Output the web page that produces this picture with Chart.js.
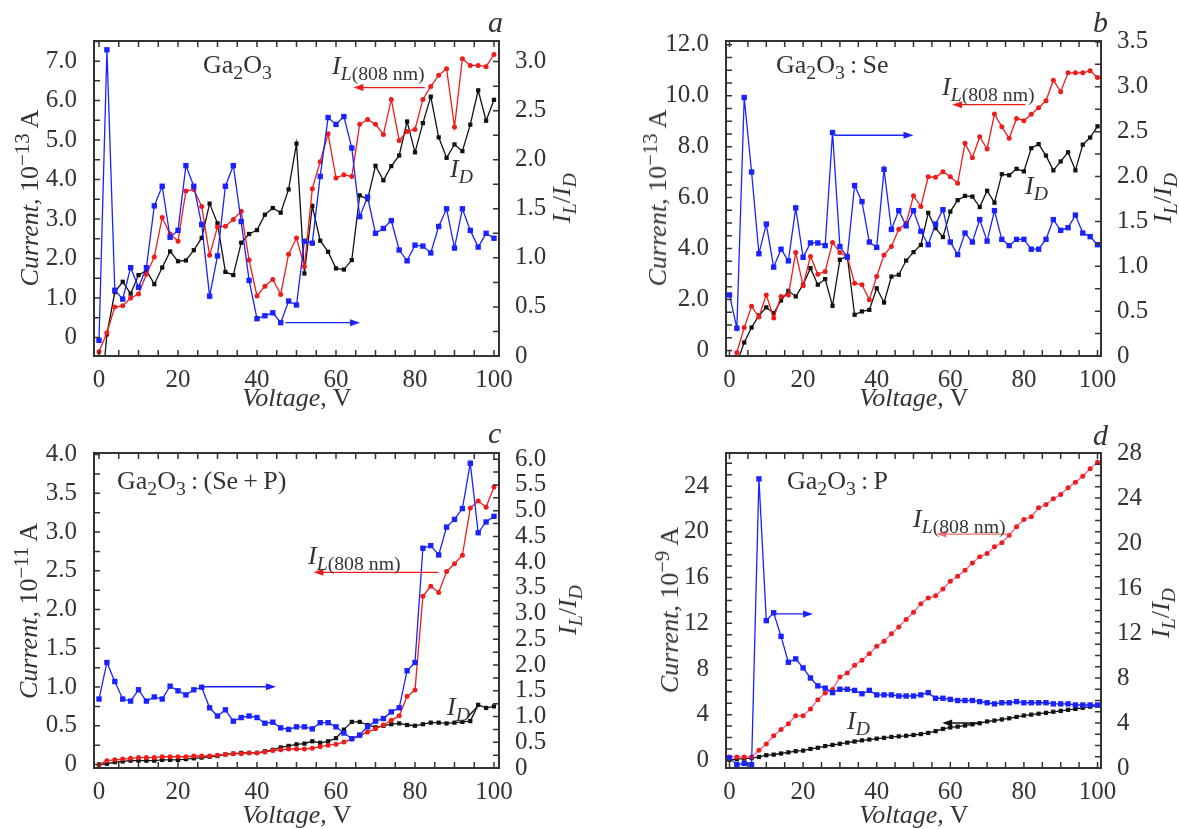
<!DOCTYPE html>
<html lang="en">
<head>
<meta charset="utf-8">
<title>Ga2O3 dark / light current and I_L/I_D ratio</title>
<script src="https://cdn.jsdelivr.net/npm/chart.js@4.4.1/dist/chart.umd.min.js"></script>
<style>
  html, body { margin: 0; background: #fff; }
  #fig { position: relative; width: 1179px; height: 829px; overflow: hidden;
         font-family: "Liberation Serif", "Times New Roman", serif; color: #333; }
  #fig canvas { position: absolute; }
  .t { position: absolute; white-space: nowrap; line-height: 1; }
  .c { transform: translateX(-50%); }
  .r { transform: translate(-50%, -50%) rotate(-90deg); }
  .sb { font-size: 0.76em; position: relative; top: 0.3em; }
  .sp { font-size: 0.8em; position: relative; top: -0.45em; }
</style>
</head>
<body>
<div id="fig">
  <canvas id="chart-a" width="590" height="415" style="left:0;top:0"></canvas>
  <canvas id="chart-b" width="589" height="415" style="left:590px;top:0"></canvas>
  <canvas id="chart-c" width="590" height="414" style="left:0;top:415px"></canvas>
  <canvas id="chart-d" width="589" height="414" style="left:590px;top:415px"></canvas>

  <!-- panel a -->
  <div class="t" style="left:488px;top:7px;font-size:30px"><i>a</i></div>
  <div class="t" style="left:203px;top:52px;font-size:26px">Ga<span class="sb">2</span>O<span class="sb">3</span></div>
  <div class="t" style="left:332px;top:53px;font-size:26px"><i>I</i><span class="sb"><i>L</i>(808 nm)</span></div>
  <div class="t" style="left:450px;top:156px;font-size:26px"><i>I</i><span class="sb"><i>D</i></span></div>
  <div class="t r" style="left:30px;top:198px;font-size:26px"><i>Current,</i> 10<span class="sp">−13</span> A</div>
  <div class="t r" style="left:562px;top:198px;font-size:26px"><i>I</i><span class="sb"><i>L</i></span>/<i>I</i><span class="sb"><i>D</i></span></div>
  <div class="t c" style="left:297px;top:385px;font-size:26px"><i>Voltage</i>, V</div>

  <!-- panel b -->
  <div class="t" style="left:1093px;top:7px;font-size:30px"><i>b</i></div>
  <div class="t" style="left:776px;top:52px;font-size:26px">Ga<span class="sb">2</span>O<span class="sb">3</span>&#8201;:&#8201;Se</div>
  <div class="t" style="left:942px;top:74px;font-size:26px"><i>I</i><span class="sb"><i>L</i>(808 nm)</span></div>
  <div class="t" style="left:1025px;top:173px;font-size:26px"><i>I</i><span class="sb"><i>D</i></span></div>
  <div class="t r" style="left:658px;top:198px;font-size:26px"><i>Current,</i> 10<span class="sp">−13</span> A</div>
  <div class="t r" style="left:1163px;top:198px;font-size:26px"><i>I</i><span class="sb"><i>L</i></span>/<i>I</i><span class="sb"><i>D</i></span></div>
  <div class="t c" style="left:914px;top:385px;font-size:26px"><i>Voltage</i>, V</div>

  <!-- panel c -->
  <div class="t" style="left:488px;top:418px;font-size:30px"><i>c</i></div>
  <div class="t" style="left:117px;top:468px;font-size:26px">Ga<span class="sb">2</span>O<span class="sb">3</span>&#8201;:&#8201;(Se&#8201;+&#8201;P)</div>
  <div class="t" style="left:308px;top:543px;font-size:26px"><i>I</i><span class="sb"><i>L</i>(808 nm)</span></div>
  <div class="t" style="left:447px;top:694px;font-size:26px"><i>I</i><span class="sb"><i>D</i></span></div>
  <div class="t r" style="left:29px;top:611px;font-size:26px"><i>Current,</i> 10<span class="sp">−11</span> A</div>
  <div class="t r" style="left:568px;top:610px;font-size:26px"><i>I</i><span class="sb"><i>L</i></span>/<i>I</i><span class="sb"><i>D</i></span></div>
  <div class="t c" style="left:297px;top:802px;font-size:26px"><i>Voltage</i>, V</div>

  <!-- panel d -->
  <div class="t" style="left:1093px;top:420px;font-size:30px"><i>d</i></div>
  <div class="t" style="left:787px;top:468px;font-size:26px">Ga<span class="sb">2</span>O<span class="sb">3</span>&#8201;:&#8201;P</div>
  <div class="t" style="left:913px;top:506px;font-size:26px"><i>I</i><span class="sb"><i>L</i>(808 nm)</span></div>
  <div class="t" style="left:847px;top:708px;font-size:26px"><i>I</i><span class="sb"><i>D</i></span></div>
  <div class="t r" style="left:670px;top:610px;font-size:26px"><i>Current,</i> 10<span class="sp">−9</span> A</div>
  <div class="t r" style="left:1161px;top:613px;font-size:26px"><i>I</i><span class="sb"><i>L</i></span>/<i>I</i><span class="sb"><i>D</i></span></div>
  <div class="t c" style="left:914px;top:802px;font-size:26px"><i>Voltage</i>, V</div>
</div>

<script>
// Four panels, voltage sweep 0..100 V in 2 V steps.
// left axis: dark current I_D and light current I_L(808 nm); right axis: I_L/I_D.

const VOLTAGE = [0, 2, 4, 6, 8, 10, 12, 14, 16, 18, 20, 22, 24, 26, 28, 30, 32, 34, 36, 38, 40,
  42, 44, 46, 48, 50, 52, 54, 56, 58, 60, 62, 64, 66, 68, 70, 72, 74, 76, 78, 80,
  82, 84, 86, 88, 90, 92, 94, 96, 98, 100];
const X_TICKS = [0, 20, 40, 60, 80, 100];

// ---- a: Ga2O3 (10^-13 A) ----
const A_DARK = [-2.1, 0.08, 1.15, 1.41, 1.11, 1.58, 1.70, 1.35, 1.77, 2.18, 1.93, 1.95, 2.21, 2.52, 3.39, 2.89, 1.66,
  1.58, 2.40, 2.62, 2.72, 3.11, 3.28, 3.16, 3.75, 4.91, 1.62, 3.33, 2.45, 2.17, 1.75, 1.72, 1.96, 3.60,
  3.50, 4.35, 3.98, 4.34, 4.61, 5.47, 4.69, 5.43, 6.10, 5.07, 4.55, 4.89, 4.72, 5.39, 6.26, 5.49, 6.02];
const A_LIGHT = [-0.36, 0.12, 0.77, 0.80, 1.00, 1.10, 1.60, 2.04, 3.04, 2.62, 2.44, 3.71, 3.75, 3.32, 2.08, 2.80, 2.82,
  2.99, 3.20, 1.96, 1.05, 1.30, 1.47, 1.09, 2.11, 2.52, 1.80, 3.77, 4.45, 5.16, 4.04, 4.12, 4.08, 5.40,
  5.52, 5.40, 5.14, 6.03, 4.99, 5.22, 5.27, 6.03, 6.36, 6.64, 6.81, 5.33, 7.06, 6.89, 6.89, 6.86, 7.17];
const A_RATIO = [0.16, 3.12, 0.67, 0.58, 0.90, 0.70, 0.90, 1.53, 1.73, 1.21, 1.28, 1.94, 1.73, 1.34, 0.61, 1.02, 1.73,
  1.94, 1.37, 0.77, 0.38, 0.41, 0.44, 0.34, 0.56, 0.52, 1.17, 1.15, 1.83, 2.43, 2.36, 2.44, 2.12, 1.42,
  1.62, 1.25, 1.30, 1.38, 1.08, 0.97, 1.13, 1.12, 1.05, 1.32, 1.50, 1.10, 1.50, 1.28, 1.11, 1.25, 1.20];
const A_LEFT_TICKS = [0, 1, 2, 3, 4, 5, 6, 7];
const A_RIGHT_TICKS = [0, 0.5, 1, 1.5, 2, 2.5, 3];

// ---- b: Ga2O3:Se (10^-13 A) ----
const B_DARK = [-1.5, -0.5, 0.31, 0.90, 1.37, 1.69, 1.46, 1.96, 2.34, 2.12, 2.58, 3.23, 2.58, 2.80, 1.75, 3.56, 3.71,
  1.40, 1.53, 1.59, 2.44, 1.88, 2.90, 2.97, 3.53, 3.86, 4.14, 5.40, 4.80, 4.45, 5.45, 5.90, 6.07, 6.04,
  5.63, 6.27, 5.80, 6.92, 6.88, 7.13, 7.03, 7.94, 8.10, 7.65, 7.07, 7.42, 7.78, 7.07, 8.08, 8.36, 8.80];
const B_LIGHT = [-0.9, -0.08, 0.90, 1.73, 1.31, 2.18, 1.27, 2.12, 2.18, 3.84, 2.54, 3.69, 2.99, 3.10, 4.24, 3.84, 3.69,
  2.64, 2.58, 1.99, 2.90, 3.75, 4.08, 4.76, 4.99, 6.07, 5.65, 6.82, 6.80, 7.02, 6.82, 6.56, 8.13, 7.57,
  8.39, 7.91, 9.28, 8.78, 8.33, 9.11, 9.02, 9.27, 9.53, 9.80, 10.61, 10.16, 10.90, 10.90, 10.90, 10.98, 10.72];
const B_RATIO = [0.68, 0.31, 2.88, 2.05, 1.14, 1.47, 0.99, 1.19, 1.06, 1.65, 1.10, 1.26, 1.26, 1.23, 2.49, 1.22, 1.10,
  1.90, 1.72, 1.27, 1.21, 2.08, 1.41, 1.62, 1.45, 1.62, 1.39, 1.24, 1.47, 1.63, 1.27, 1.13, 1.37, 1.27,
  1.52, 1.28, 1.62, 1.30, 1.23, 1.30, 1.30, 1.19, 1.19, 1.30, 1.52, 1.40, 1.43, 1.57, 1.37, 1.33, 1.24];
const B_LEFT_TICKS = [0, 2, 4, 6, 8, 10, 12];
const B_RIGHT_TICKS = [0, 0.5, 1, 1.5, 2, 2.5, 3, 3.5];

// ---- c: Ga2O3:(Se+P) (10^-11 A) ----
const C_DARK = [0.0, 0.01, 0.03, 0.04, 0.05, 0.05, 0.05, 0.05, 0.06, 0.06, 0.06, 0.07, 0.08, 0.09, 0.10, 0.11, 0.13,
  0.14, 0.15, 0.15, 0.15, 0.17, 0.19, 0.22, 0.24, 0.26, 0.27, 0.30, 0.28, 0.30, 0.34, 0.45, 0.55, 0.55,
  0.51, 0.48, 0.50, 0.52, 0.53, 0.51, 0.50, 0.52, 0.54, 0.54, 0.53, 0.54, 0.55, 0.56, 0.77, 0.73, 0.75];
const C_LIGHT = [0.0, 0.05, 0.06, 0.07, 0.08, 0.09, 0.09, 0.09, 0.10, 0.10, 0.10, 0.10, 0.11, 0.11, 0.11, 0.12, 0.13,
  0.14, 0.14, 0.15, 0.15, 0.16, 0.18, 0.19, 0.20, 0.20, 0.20, 0.21, 0.23, 0.25, 0.26, 0.29, 0.33, 0.37,
  0.42, 0.46, 0.51, 0.57, 0.63, 0.88, 0.96, 2.17, 2.30, 2.22, 2.49, 2.59, 2.70, 3.31, 3.40, 3.32, 3.58];
const C_RATIO = [1.34, 2.05, 1.68, 1.34, 1.30, 1.52, 1.30, 1.38, 1.34, 1.59, 1.50, 1.42, 1.52, 1.57, 1.17, 1.01, 1.13,
  0.91, 0.98, 1.01, 0.98, 0.87, 0.89, 0.78, 0.75, 0.80, 0.80, 0.76, 0.88, 0.88, 0.80, 0.68, 0.57, 0.64,
  0.80, 0.91, 0.96, 1.09, 1.17, 1.89, 2.05, 4.27, 4.32, 4.14, 4.68, 4.83, 5.04, 5.92, 4.57, 4.78, 4.89];
const C_LEFT_TICKS = [0, 0.5, 1, 1.5, 2, 2.5, 3, 3.5, 4];
const C_RIGHT_TICKS = [0, 0.5, 1, 1.5, 2, 2.5, 3, 3.5, 4, 4.5, 5, 5.5, 6];

// ---- d: Ga2O3:P (10^-9 A) ----
const D_DARK = [0.05, 0.1, 0.15, 0.2, 0.3, 0.45, 0.5, 0.6, 0.7, 0.8, 0.85, 1.0, 1.1, 1.25, 1.35, 1.45, 1.55,
  1.65, 1.75, 1.82, 1.9, 1.97, 2.05, 2.1, 2.15, 2.22, 2.3, 2.4, 2.55, 2.75, 2.88, 2.95, 3.05, 3.15,
  3.25, 3.4, 3.48, 3.58, 3.68, 3.8, 3.92, 4.0, 4.08, 4.16, 4.25, 4.33, 4.42, 4.5, 4.6, 4.7, 4.8];
const D_LIGHT = [0.3, 0.3, 0.3, 0.3, 0.88, 1.43, 2.16, 2.69, 3.21, 3.91, 3.91, 4.50, 5.31, 5.90, 6.19, 7.30, 7.65,
  8.32, 8.76, 9.34, 9.98, 10.42, 11.07, 11.68, 12.32, 12.96, 13.7, 14.2, 14.4, 15.0, 15.67, 16.11, 16.64,
  17.28, 17.81, 18.1, 18.69, 19.04, 19.7, 20.44, 21.08, 21.31, 22.1, 22.39, 22.89, 23.27, 23.85, 24.34,
  24.87, 25.52, 26.1];
const D_RATIO = [0.9, 0.3, 0.4, 0.3, 25.7, 13.1, 13.8, 11.7, 9.4, 9.7, 8.9, 8.0, 7.3, 7.1, 6.7, 7.0, 7.0, 6.9,
  6.6, 6.9, 6.5, 6.5, 6.5, 6.4, 6.4, 6.4, 6.5, 6.7, 6.2, 6.2, 6.1, 6.0, 6.0, 6.0, 5.9, 5.8, 5.7, 5.8,
  5.8, 5.9, 5.8, 5.8, 5.8, 5.8, 5.7, 5.7, 5.7, 5.6, 5.6, 5.6, 5.6];
const D_LEFT_TICKS = [0, 4, 8, 12, 16, 20, 24];
const D_RIGHT_TICKS = [0, 4, 8, 12, 16, 20, 24, 28];

const BLUE = '#1a22ff', RED = '#f01c1c', BLACK = '#111', AXIS = '#333';
const TICK_FONT = { family: '"Liberation Serif", "Times New Roman", serif', size: 25 };

function pts(ys) { return VOLTAGE.map((v, i) => ({ x: v, y: ys[i] })); }
const fmt1 = v => (v === 0 ? '0' : v.toFixed(1));
const fmt0 = v => String(v);

// frame, inward ticks on all four sides, and the little pointer arrows
const framePlugin = {
  id: 'frame',
  afterDatasetsDraw(chart, args, o) {
    const { ctx, chartArea: a, scales } = chart;
    const xs = scales.x;
    ctx.save();
    ctx.lineWidth = 1.4;
    (o.arrows || []).forEach(ar => {
      const ys = scales[ar.axis];
      const x0 = xs.getPixelForValue(ar.from), x1 = xs.getPixelForValue(ar.to);
      const y = ys.getPixelForValue(ar.at);
      const dir = Math.sign(x1 - x0);
      ctx.strokeStyle = ar.color; ctx.fillStyle = ar.color;
      ctx.beginPath(); ctx.moveTo(x0, y); ctx.lineTo(x1 - dir * 6, y); ctx.stroke();
      ctx.beginPath(); ctx.moveTo(x1, y);
      ctx.lineTo(x1 - dir * 10, y - 3.5); ctx.lineTo(x1 - dir * 10, y + 3.5);
      ctx.closePath(); ctx.fill();
    });
    (o.leaders || []).forEach(l => {
      const ys = scales[l.axis];
      ctx.strokeStyle = l.color;
      ctx.beginPath();
      ctx.moveTo(xs.getPixelForValue(l.x0), ys.getPixelForValue(l.y0));
      ctx.lineTo(xs.getPixelForValue(l.x1), ys.getPixelForValue(l.y1));
      ctx.stroke();
    });

    const L = 6;
    const each = (scale, step, fn) => {
      for (let k = Math.ceil(scale.min / step - 1e-6); k * step <= scale.max + 1e-6; k++) {
        fn(scale.getPixelForValue(k * step));
      }
    };
    ctx.strokeStyle = AXIS; ctx.lineWidth = 1.5;
    ctx.beginPath();
    each(xs, o.xStep, p => { ctx.moveTo(p, a.top); ctx.lineTo(p, a.top + L); ctx.moveTo(p, a.bottom); ctx.lineTo(p, a.bottom - L); });
    each(scales.y, o.yStep, p => { ctx.moveTo(a.left, p); ctx.lineTo(a.left + L, p); });
    each(scales.y1, o.y1Step, p => { ctx.moveTo(a.right, p); ctx.lineTo(a.right - L, p); });
    ctx.stroke();
    ctx.lineWidth = 2;
    ctx.strokeRect(a.left, a.top, a.right - a.left, a.bottom - a.top);
    ctx.restore();
  }
};

function series(ys, color, axis, style, r, lineColor) {
  return {
    data: pts(ys), yAxisID: axis,
    borderColor: lineColor || color, borderWidth: 1.3,
    pointStyle: style, pointRadius: r, pointBorderWidth: 0,
    pointBackgroundColor: color, tension: 0, clip: 0
  };
}

function axis(pos, min, max, ticks, fmt, width) {
  return {
    type: 'linear', position: pos, min, max,
    afterBuildTicks: s => { s.ticks = ticks.map(v => ({ value: v })); },
    afterFit: s => { s.width = width; },
    grid: { display: false }, border: { display: false },
    ticks: { font: TICK_FONT, color: AXIS, padding: pos === 'left' ? 9 : 8, autoSkip: false, callback: fmt }
  };
}

function makeChart(id, p) {
  const el = document.getElementById(id);
  const W = el.width, H = el.height;
  return new Chart(el, {
    type: 'line',
    data: {
      datasets: [
        series(p.ratio, BLUE, 'y1', 'rect', 3.8),
        series(p.light, RED, 'y', 'circle', 2.5, p.lightLine),
        series(p.dark, BLACK, 'y', 'rect', 3)
      ]
    },
    options: {
      responsive: false, animation: false, devicePixelRatio: 1,
      layout: { padding: { top: p.area.top, left: 0, right: 0, bottom: 0 } },
      plugins: {
        legend: { display: false }, tooltip: { enabled: false },
        frame: { xStep: 5, yStep: p.yStep, y1Step: p.y1Step, arrows: p.arrows, leaders: p.leaders }
      },
      scales: {
        x: {
          type: 'linear', min: p.x[0], max: p.x[1],
          afterBuildTicks: s => { s.ticks = X_TICKS.map(v => ({ value: v })); },
          afterFit: s => { s.height = H - p.area.bottom; },
          grid: { display: false }, border: { display: false },
          ticks: { font: TICK_FONT, color: AXIS, padding: 1, maxRotation: 0, autoSkip: false, callback: fmt0 }
        },
        y: axis('left', p.y[0], p.y[1], p.leftTicks, p.fmt, p.area.left),
        y1: axis('right', p.y1[0], p.y1[1], p.rightTicks, p.fmt, W - p.area.right)
      }
    },
    plugins: [framePlugin]
  });
}

makeChart('chart-a', {
  dark: A_DARK, light: A_LIGHT, ratio: A_RATIO,
  area: { left: 94, right: 499, top: 41, bottom: 356 },
  x: [-1.27, 101.27], y: [-0.47, 7.51], y1: [0, 3.21],
  leftTicks: A_LEFT_TICKS, rightTicks: A_RIGHT_TICKS, fmt: fmt1, yStep: 0.5, y1Step: 0.25,
  arrows: [
    { axis: 'y', from: 82.5, to: 64.4, at: 6.33, color: RED },
    { axis: 'y1', from: 47.2, to: 66.1, at: 0.34, color: BLUE }
  ]
});

makeChart('chart-b', {
  dark: B_DARK, light: B_LIGHT, ratio: B_RATIO,
  area: { left: 136, right: 511, top: 41, bottom: 356 },
  x: [-0.95, 100.95], y: [-0.22, 12.15], y1: [0, 3.51],
  leftTicks: B_LEFT_TICKS, rightTicks: B_RIGHT_TICKS, fmt: fmt1, yStep: 0.5, y1Step: 0.25,
  arrows: [
    { axis: 'y', from: 80.4, to: 60.5, at: 9.65, color: RED },
    { axis: 'y1', from: 28.5, to: 50, at: 2.46, color: BLUE }
  ]
});

makeChart('chart-c', {
  dark: C_DARK, light: C_LIGHT, ratio: C_RATIO,
  area: { left: 94, right: 499, top: 38, bottom: 353 },
  x: [-1.27, 101.27], y: [-0.045, 4.02], y1: [0, 6.12],
  leftTicks: C_LEFT_TICKS, rightTicks: C_RIGHT_TICKS, fmt: fmt1, yStep: 0.25, y1Step: 0.25,
  arrows: [
    { axis: 'y', from: 85.9, to: 54.3, at: 2.48, color: RED },
    { axis: 'y1', from: 25.6, to: 44.8, at: 1.58, color: BLUE }
  ],
  leaders: [{ axis: 'y', x0: 93.5, y0: 0.62, x1: 96.0, y1: 0.76, color: BLACK }]
});

makeChart('chart-d', {
  dark: D_DARK, light: D_LIGHT, ratio: D_RATIO, lightLine: '#f0609e',
  area: { left: 136, right: 511, top: 38, bottom: 353 },
  x: [-0.95, 100.95], y: [-0.67, 26.9], y1: [0, 28],
  leftTicks: D_LEFT_TICKS, rightTicks: D_RIGHT_TICKS, fmt: fmt0, yStep: 1, y1Step: 1,
  arrows: [
    { axis: 'y', from: 76.1, to: 56.2, at: 19.8, color: '#f36b6b' },
    { axis: 'y', from: 68.4, to: 57.8, at: 3.27, color: BLACK },
    { axis: 'y1', from: 11.6, to: 22.7, at: 13.7, color: BLUE }
  ]
});
</script>
</body>
</html>
